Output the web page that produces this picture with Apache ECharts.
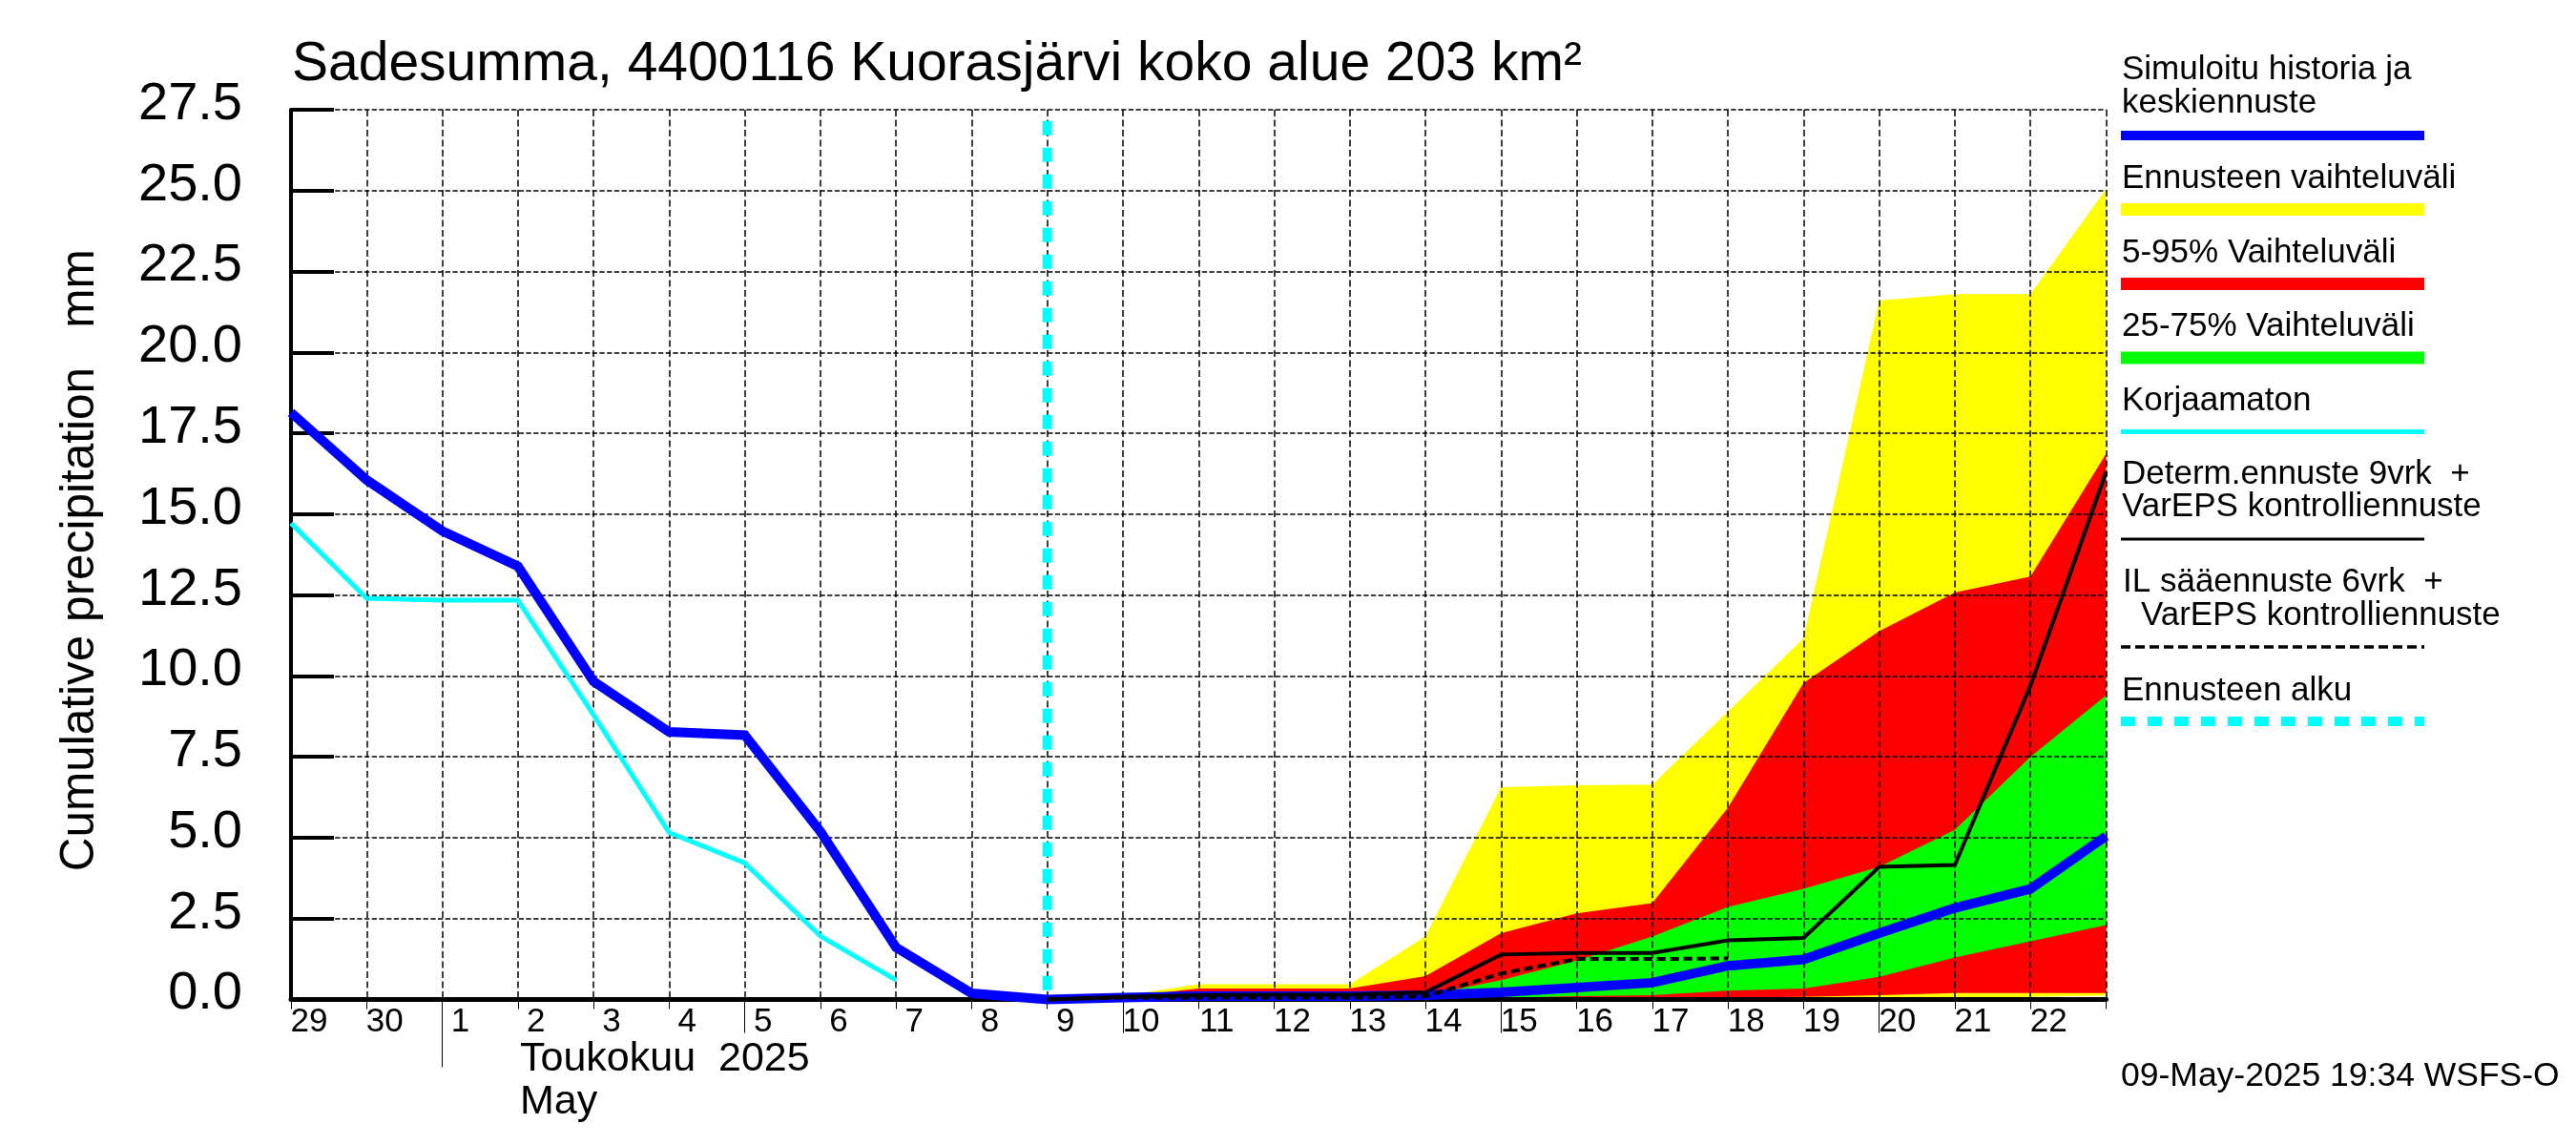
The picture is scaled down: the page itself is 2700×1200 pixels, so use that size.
<!DOCTYPE html>
<html>
<head>
<meta charset="utf-8">
<title>Sadesumma</title>
<script src="https://cdn.jsdelivr.net/npm/echarts@6/dist/echarts.min.js"></script>
<style>
html, body { margin: 0; padding: 0; background: #fff; }
#chart { width: 2700px; height: 1200px; }
</style>
</head>
<body>
<div id="chart"></div>
<script>
// day labels, one per x tick (29 Apr .. 22 May), last tick has no label
var dayLabels = ['29', '30', '1', '2', '3', '4', '5', '6', '7', '8', '9', '10', '11', '12', '13', '14', '15', '16', '17', '18', '19', '20', '21', '22'];
var midTicks = [6, 11, 16, 21];
var monthTicks = [2];
var forecastStart = 10;
var forecastLineTop = 27.15;

// history runs 29 Apr .. 9 May, forecast from 9 May on (null = not drawn)
var meanLine = [18.14, 16.06, 14.48, 13.39, 9.83, 8.27, 8.17, 5.19, 1.61, 0.19, 0, 0.06, 0.1, 0.1, 0.1, 0.13, 0.22, 0.37, 0.52, 1.04, 1.24, 2.05, 2.83, 3.42, 5.05];
var uncorrected = [14.72, 12.4, 12.34, 12.34, 8.8, 5.16, 4.22, 1.96, 0.6];
var yellowTop = [null, null, null, null, null, null, null, null, null, null, 0, 0.12, 0.47, 0.47, 0.47, 1.95, 6.56, 6.62, 6.64, 8.9, 11.16, 21.6, 21.8, 21.8, 25.05];
var redTop = [null, null, null, null, null, null, null, null, null, null, 0, 0.08, 0.34, 0.34, 0.34, 0.72, 2.05, 2.66, 2.98, 5.93, 9.78, 11.38, 12.58, 13.07, 16.87];
var greenTop = [null, null, null, null, null, null, null, null, null, null, 0, 0.05, 0.1, 0.1, 0.1, 0.13, 0.6, 1.2, 1.95, 2.86, 3.42, 4.1, 5.24, 7.5, 9.4];
var greenBottom = [null, null, null, null, null, null, null, null, null, null, 0, 0, 0, 0, 0, 0, 0.05, 0.1, 0.13, 0.27, 0.34, 0.7, 1.3, 1.8, 2.3];
var redBottom = [null, null, null, null, null, null, null, null, null, null, 0, 0, 0, 0, 0, 0, 0, 0, 0.03, 0.06, 0.08, 0.13, 0.2, 0.2, 0.2];
var yellowBottom = [null, null, null, null, null, null, null, null, null, null, 0, 0, 0, 0, 0, 0, 0, 0, 0, 0, 0, 0.02, 0.05, 0.08, 0.12];
var determLine = [null, null, null, null, null, null, null, null, null, null, 0, 0.08, 0.13, 0.15, 0.15, 0.22, 1.39, 1.44, 1.44, 1.83, 1.9, 4.1, 4.16, 9.7, 16.3];
var ilLine = [null, null, null, null, null, null, null, null, null, null, 0, 0.06, 0.06, 0.06, 0.06, 0.1, 0.8, 1.25, 1.25, 1.27];

function points(values) {
    var data = [];
    for (var i = 0; i < values.length; i++) {
        data.push([i, values[i]]);
    }
    return data;
}

function areaSeries(values, color) {
    return {
        type: 'line',
        data: points(values),
        showSymbol: false,
        silent: true,
        z: 2,
        lineStyle: { width: 0 },
        areaStyle: { color: color, opacity: 1, origin: 'start' }
    };
}

function lineSeries(values, color, width, dash) {
    return {
        type: 'line',
        data: points(values),
        showSymbol: false,
        silent: true,
        clip: false,
        z: 6,
        lineStyle: { color: color, width: width, type: dash || 'solid', cap: 'butt', join: 'miter' }
    };
}

// extra x axes only carry the longer tick marks
function tickAxis(values, length) {
    return {
        type: 'value',
        min: 0,
        max: 24,
        position: 'bottom',
        z: 5,
        axisLine: { show: false },
        axisLabel: { show: false },
        splitLine: { show: false },
        axisTick: { show: true, customValues: values, length: length, lineStyle: { color: '#000', width: 1 } }
    };
}

function text(str, x, baseline, size) {
    return {
        type: 'text',
        silent: true,
        style: {
            text: str,
            x: x,
            y: baseline - size * 0.33 + 1,
            fill: '#000',
            font: size + 'px "Liberation Sans"',
            verticalAlign: 'middle'
        }
    };
}

function swatch(y, h, color, dash) {
    return {
        type: 'line',
        silent: true,
        shape: { x1: 2223, y1: y, x2: 2541, y2: y },
        style: { stroke: color, lineWidth: h, lineDash: dash || null }
    };
}

var legendItems = [
    text('Simuloitu historia ja', 2224, 84, 35),
    text('keskiennuste', 2224, 119, 35),
    swatch(142, 10, '#0000ff'),
    text('Ennusteen vaihteluväli', 2224, 197.5, 35),
    swatch(219.5, 13, '#ffff00'),
    text('5-95% Vaihteluväli', 2224, 275.5, 35),
    swatch(297.5, 13, '#ff0000'),
    text('25-75% Vaihteluväli', 2224, 353, 35),
    swatch(375, 13, '#00ff00'),
    text('Korjaamaton', 2224, 431, 35),
    swatch(452.5, 5, '#00ffff'),
    text('Determ.ennuste 9vrk  +', 2224, 507.6, 35),
    text('VarEPS kontrolliennuste', 2224, 542, 35),
    swatch(565, 3, '#000'),
    text('IL sääennuste 6vrk  +', 2225, 621, 35),
    text('VarEPS kontrolliennuste', 2244, 655.6, 35),
    swatch(678, 3.5, '#000', [10, 5]),
    text('Ennusteen alku', 2224, 734.7, 35),
    swatch(756, 10, '#00ffff', [15, 13])
];

var chart = echarts.init(document.getElementById('chart'));

var option = {
    animation: false,
    backgroundColor: '#fff',
    title: {
        text: 'Sadesumma, 4400116 Kuorasjärvi koko alue 203 km²',
        left: 306,
        top: 40,
        padding: 0,
        textStyle: { fontFamily: 'Liberation Sans', fontSize: 57, fontWeight: 'normal', color: '#000' }
    },
    grid: { left: 305, right: 492.5, top: 115, bottom: 152.5 },
    xAxis: [
        {
            type: 'value',
            min: 0,
            max: 24,
            interval: 1,
            z: 5,
            axisLine: { lineStyle: { color: '#000', width: 5 } },
            axisTick: { show: true, length: 10, lineStyle: { color: '#000', width: 1 } },
            axisLabel: {
                color: '#000',
                fontFamily: 'Liberation Sans',
                fontSize: 35,
                margin: 6,
                align: 'center',
                padding: [0, 0, 0, 38],
                formatter: function (v) { return dayLabels[v] || ''; }
            },
            splitLine: { show: true, lineStyle: { color: '#000', width: 1.5, type: [7, 3.5] } }
        },
        tickAxis(midTicks, 35),
        tickAxis(monthTicks, 71)
    ],
    yAxis: {
        type: 'value',
        min: 0,
        max: 27.5,
        interval: 2.5,
        z: 5,
        name: 'Cumulative precipitation   mm',
        nameLocation: 'middle',
        nameGap: 196,
        nameTextStyle: { color: '#000', fontFamily: 'Liberation Sans', fontSize: 49.5, padding: [0, 12, 0, 0] },
        axisLine: { show: true, lineStyle: { color: '#000', width: 4 } },
        axisTick: { show: true, inside: true, length: 45, lineStyle: { color: '#000', width: 4 } },
        axisLabel: {
            color: '#000',
            fontFamily: 'Liberation Sans',
            fontSize: 56,
            margin: 51,
            verticalAlign: 'bottom',
            lineHeight: 11,
            formatter: function (v) { return v.toFixed(1); }
        },
        splitLine: { show: true, lineStyle: { color: '#000', width: 1.5, type: [5.3, 2.4] } }
    },
    series: [
        areaSeries(yellowTop, '#ffff00'),
        areaSeries(redTop, '#ff0000'),
        areaSeries(greenTop, '#00ff00'),
        areaSeries(greenBottom, '#ff0000'),
        areaSeries(redBottom, '#ffff00'),
        areaSeries(yellowBottom, '#ffffff'),
        {
            type: 'line',
            data: [[forecastStart, forecastLineTop], [forecastStart, 0]],
            showSymbol: false,
            silent: true,
            clip: false,
            z: 6,
            lineStyle: { color: '#00ffff', width: 10, type: [15, 13], cap: 'butt' }
        },
        lineSeries(uncorrected, '#00ffff', 5),
        lineSeries(meanLine, '#0000ff', 10),
        lineSeries(determLine, '#000', 4),
        lineSeries(ilLine, '#000', 4, [9, 5])
    ],
    graphic: legendItems.concat([
        text('Toukokuu  2025', 545, 1123, 43),
        text('May', 545, 1168, 43),
        text('09-May-2025 19:34 WSFS-O', 2223, 1139, 35.5)
    ])
};

chart.setOption(option);
</script>
</body>
</html>
